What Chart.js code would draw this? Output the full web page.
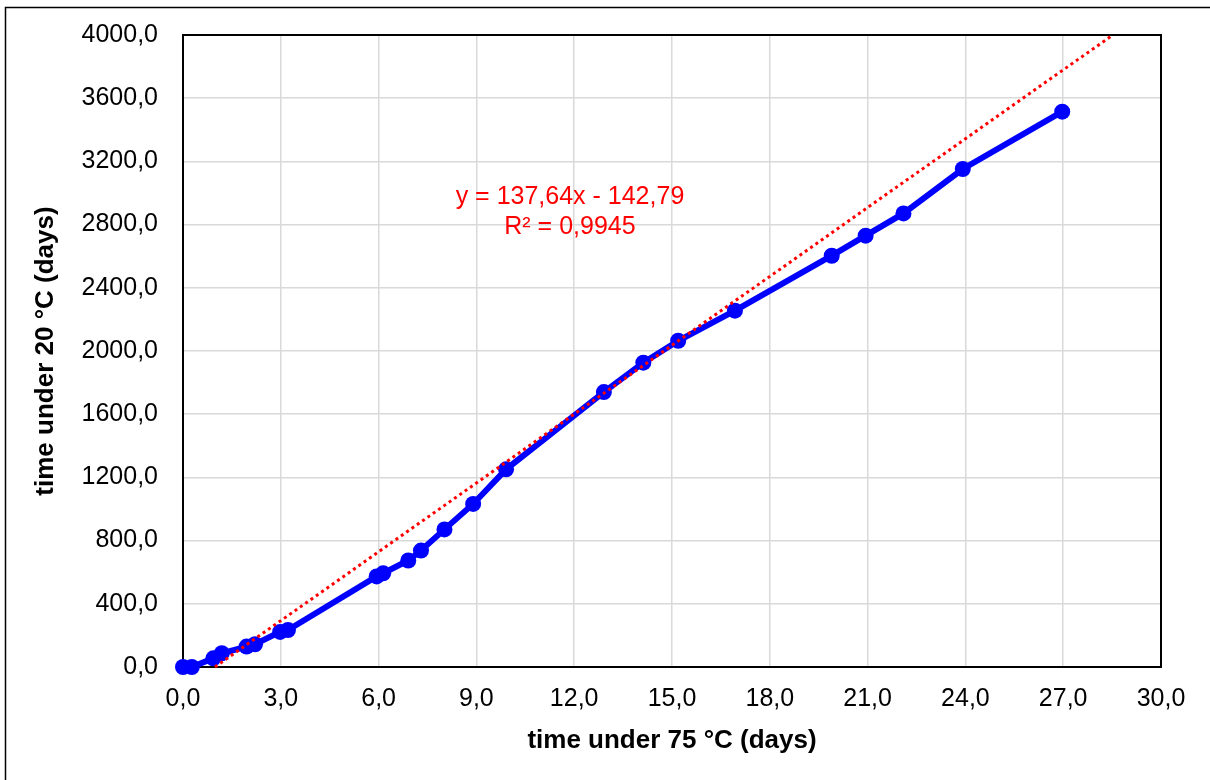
<!DOCTYPE html>
<html>
<head>
<meta charset="utf-8">
<script src="https://cdn.jsdelivr.net/npm/chart.js@4"></script>
<style>
  body { margin: 0; background: #fff; }
  #wrap { width: 1210px; height: 780px; }
</style>
</head>
<body>
<div id="wrap"><canvas id="chart" width="1210" height="780"></canvas></div>
<script>
// measured series: time under 75 °C vs time under 20 °C (days)
const hotDays = [0, 0.27, 0.93, 1.19, 1.95, 2.21, 2.98, 3.22, 5.94, 6.14, 6.91, 7.30, 8.02, 8.90, 9.91, 12.91, 14.12, 15.19, 16.93, 19.90, 20.94, 22.10, 23.92, 26.97];
const coldDays = [0, 0, 55, 87, 129, 144, 222, 234, 573, 593, 674, 737, 871, 1032, 1251, 1740, 1926, 2065, 2255, 2603, 2730, 2871, 3152, 3515];

// trendline end points as drawn
const trendX = [0.98, 28.52];
const trendY = [0, 4000];

const trendLabel = ["y = 137,64x - 142,79", "R\u00b2 = 0,9945"];
const xTicks = [0, 30, 3];
const yTicks = [0, 4000, 400];

const fontFamily = "Arial, 'Liberation Sans', sans-serif";

function fmt(v) {
  return Number(v).toFixed(1).replace(".", ",");
}

// frame around the plot area, drawn under the lines
const frame = {
  id: "frame",
  beforeDatasetsDraw(chart) {
    const a = chart.chartArea;
    const ctx = chart.ctx;
    ctx.save();
    ctx.strokeStyle = "#000";
    ctx.lineWidth = 2;
    ctx.strokeRect(a.left, a.top, a.right - a.left, a.bottom - a.top);
    ctx.restore();
  },
  afterDraw(chart) {
    const ctx = chart.ctx;
    const xs = chart.scales.x;
    const ys = chart.scales.y;
    ctx.save();
    // outer chart border (left and top edges are the visible ones)
    ctx.strokeStyle = "#000";
    ctx.lineWidth = 1.5;
    ctx.beginPath();
    ctx.moveTo(5.5, 800);
    ctx.lineTo(5.5, 7.5);
    ctx.lineTo(1230, 7.5);
    ctx.stroke();
    // trendline equation
    ctx.fillStyle = "#ff0000";
    ctx.font = "25px " + fontFamily;
    ctx.textAlign = "center";
    ctx.textBaseline = "middle";
    const cx = xs.getPixelForValue(11.87);
    ctx.fillText(trendLabel[0], cx, ys.getPixelForValue(2975));
    ctx.fillText(trendLabel[1], cx, ys.getPixelForValue(2785));
    ctx.restore();
  }
};

const ctx = document.getElementById("chart").getContext("2d");
new Chart(ctx, {
  type: "line",
  data: {
    datasets: [
      {
        label: "measured",
        data: hotDays.map((x, i) => ({ x: x, y: coldDays[i] })),
        borderColor: "#0000ff",
        backgroundColor: "#0000ff",
        borderWidth: 6,
        pointRadius: 8,
        pointHoverRadius: 8,
        pointBorderWidth: 0,
        tension: 0,
        clip: false,
        order: 1
      },
      {
        label: "trend",
        data: trendX.map((x, i) => ({ x: x, y: trendY[i] })),
        borderColor: "#ff0000",
        borderWidth: 3,
        borderDash: [3, 3.5],
        pointRadius: 0,
        tension: 0,
        clip: false,
        order: 0
      }
    ]
  },
  options: {
    responsive: false,
    animation: false,
    events: [],
    layout: { padding: { left: 0, top: 35, right: 49, bottom: 0 } },
    plugins: {
      legend: { display: false },
      tooltip: { enabled: false }
    },
    scales: {
      x: {
        type: "linear",
        min: xTicks[0],
        max: xTicks[1],
        ticks: {
          stepSize: xTicks[2],
          color: "#000",
          font: { family: fontFamily, size: 25 },
          padding: 17,
          maxRotation: 0,
          callback: fmt
        },
        grid: { color: "#d9d9d9", lineWidth: 1.5, drawTicks: false },
        border: { display: false },
        title: {
          display: true,
          text: "time under 75 \u00b0C (days)",
          color: "#000",
          font: { family: fontFamily, size: 26, weight: "bold" },
          padding: { top: 24, bottom: 24 }
        },
        afterFit(scale) {
          scale.height = 113;
          scale.paddingLeft = 0;
          scale.paddingRight = 0;
        }
      },
      y: {
        type: "linear",
        min: yTicks[0],
        max: yTicks[1],
        ticks: {
          stepSize: yTicks[2],
          color: "#000",
          font: { family: fontFamily, size: 25 },
          padding: 25,
          callback: fmt
        },
        grid: { color: "#d9d9d9", lineWidth: 1.5, drawTicks: false },
        border: { display: false },
        title: {
          display: true,
          text: "time under 20 \u00b0C (days)",
          color: "#000",
          font: { family: fontFamily, size: 26, weight: "bold" },
          padding: { top: 30, bottom: 30 }
        },
        afterFit(scale) {
          scale.width = 183;
          scale.paddingTop = 0;
          scale.paddingBottom = 0;
        }
      }
    }
  },
  plugins: [frame]
});
</script>
</body>
</html>
